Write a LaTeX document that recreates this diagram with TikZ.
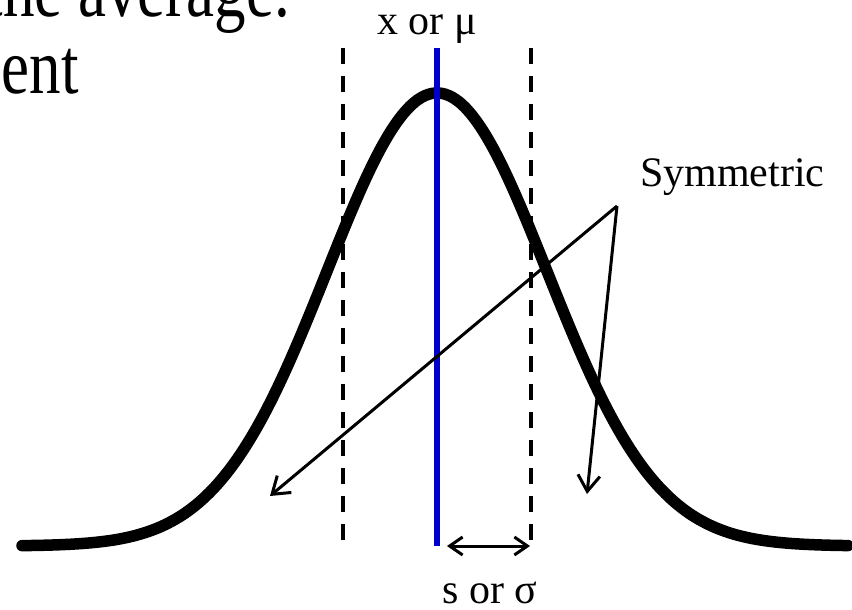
\documentclass[tikz,border=0pt]{standalone}
\usepackage{fontspec}
\usepackage{graphicx}
\setmainfont{Liberation Serif}
\usetikzlibrary{arrows.meta}
\definecolor{MeanBlue}{RGB}{0,0,204}

\begin{document}
\begin{tikzpicture}[x=1pt,y=-1pt,>={Straight Barb[length=16pt,width=22pt]}]
        \tikzset{lbl/.style={font=\fontsize{42}{48}\selectfont,inner sep=0pt,anchor=base},slide/.style={font=\fontsize{63}{70}\selectfont,inner sep=0pt,anchor=base east},pointer/.style={->,line width=3pt},bound/.style={dash pattern=on 16pt off 12pt,line width=3.5pt}}
        \useasboundingbox (0,0) rectangle (852,610);
        \clip (0,0) rectangle (852,610);
        \node[slide] (title) at (290,17) {\scalebox{1}[1.25]{the average.}};
        \node[slide] (word) at (79,93) {\scalebox{1}[1.25]{ent}};
        \draw[bound] (343,48) -- (343,540);
        \draw[bound] (531,48) -- (531,540);
        \draw[line width=11.5pt,line cap=round] plot[domain=22:848,samples=120,smooth] (\x,{546-453*exp(-((\x-437)/110)^2/2)});
        \draw[MeanBlue,line width=6pt] (437,48) -- (437,546);
        \node[lbl] (mean) at (427,35) {x or μ};
        \node[lbl,text depth=0pt] (spread) at (490,603) {s or σ};
        \node[lbl,anchor=base west] (sym) at (640,186) {Symmetric};
        \coordinate (apex) at (617,206);
        \coordinate (tailL) at (270,496);
        \coordinate (tailR) at (587,494);
        \coordinate (sdL) at (447,546);
        \coordinate (sdR) at (530,546);
        \draw[pointer] (apex) -- (tailL);
        \draw[pointer] (apex) -- (tailR);
        \draw[<->,line width=3pt,>={Straight Barb[length=13pt,width=18pt]}] (sdL) -- (sdR);
      \end{tikzpicture}
\end{document}
